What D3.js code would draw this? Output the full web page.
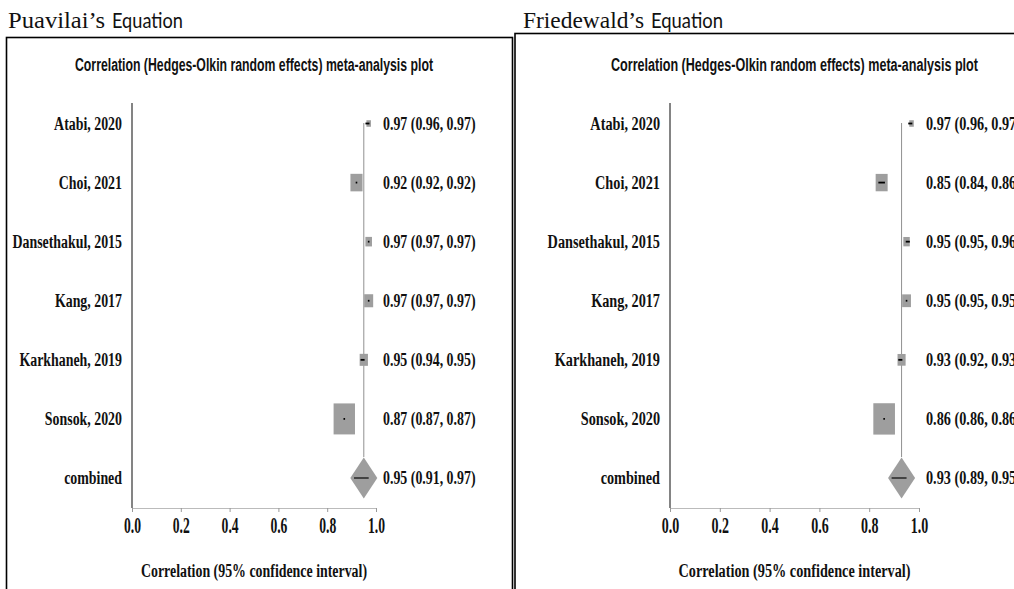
<!DOCTYPE html>
<html><head><meta charset="utf-8">
<script src="https://cdn.jsdelivr.net/npm/d3@7"></script>
<style>
html,body{margin:0;padding:0;background:#fff;overflow:hidden;}
svg{display:block;}
</style></head>
<body>
<svg id="chart" width="1014" height="589"></svg>
<script>
// ---------- DATA ----------
const studies = ["Atabi, 2020","Choi, 2021","Dansethakul, 2015","Kang, 2017","Karkhaneh, 2019","Sonsok, 2020"];
const combinedLabel = "combined";
const xTicks = [0.0,0.2,0.4,0.6,0.8,1.0];

const puaEst  = [0.97,0.92,0.97,0.97,0.95,0.87];
const puaLow  = [0.96,0.92,0.97,0.97,0.94,0.87];
const puaHigh = [0.97,0.92,0.97,0.97,0.95,0.87];
const puaWeight = [2.5,17.9,5.3,9.9,8.4,56.0];
const puaCombined = [0.95,0.91,0.97];

const friEst  = [0.97,0.85,0.95,0.95,0.93,0.86];
const friLow  = [0.96,0.84,0.95,0.95,0.92,0.86];
const friHigh = [0.97,0.86,0.96,0.95,0.93,0.86];
const friWeight = [2.5,17.6,5.1,9.5,8.0,57.3];
const friCombined = [0.93,0.89,0.95];

const panelTitles = [["Puavilai\u2019s","Equation"],["Friedewald\u2019s","Equation"]];
const plotTitle = "Correlation (Hedges-Olkin random effects) meta-analysis plot";
const xLabel = "Correlation (95% confidence interval)";

// ---------- LAYOUT ----------
const svg = d3.select("#chart");
const SERIF = "'Liberation Serif','Times New Roman',serif";
const SANS = "'Liberation Sans Narrow','Liberation Sans',Arial,sans-serif";

const panels = [
  {est:puaEst, low:puaLow, high:puaHigh, w:puaWeight, comb:puaCombined, title:panelTitles[0],
   box:{x:6.5,y:37.5,w:506,h:600}, titleX:8, titleW:[97,71],
   x0:132, x1:376, sx:0.77, plotTitleW:358},
  {est:friEst, low:friLow, high:friHigh, w:friWeight, comb:friCombined, title:panelTitles[1],
   box:{x:515,y:33.5,w:600,h:600}, titleX:523, titleW:[121,72],
   x0:670, x1:919, sx:0.79, plotTitleW:367}
];

const plotTop = 103, plotBottom = 508;
const rows = studies.concat([combinedLabel]);
const y = d3.scalePoint().domain(rows).range([123.5, 478]);
const sizeScale = d3.scaleSqrt().domain([0, 56]).range([0, 31]);
const boxAspect = 0.69;

function fmt(v){ return d3.format(".2f")(v); }

panels.forEach(p => {
  const g = svg.append("g");
  // panel frame
  g.append("rect").attr("x",p.box.x).attr("y",p.box.y).attr("width",p.box.w).attr("height",p.box.h)
    .attr("fill","none").attr("stroke","#000").attr("stroke-width",1.6);
  // panel title
  g.append("text").attr("x",p.titleX).attr("y",28).attr("font-family",SERIF)
    .attr("font-size",23).attr("textLength",p.titleW[0]).attr("lengthAdjust","spacingAndGlyphs")
    .attr("fill","#111").text(p.title[0]);
  g.append("text").attr("x",p.titleX+p.titleW[0]+7).attr("y",28).attr("font-family","Lato,'Open Sans',sans-serif")
    .attr("font-size",22).attr("textLength",p.titleW[1]).attr("lengthAdjust","spacingAndGlyphs")
    .attr("fill","#111").text(p.title[1]);

  const x = d3.scaleLinear().domain([0,1]).range([p.x0,p.x1]);
  const cx = (p.x0+p.x1)/2;

  // plot title
  g.append("text").attr("x",cx).attr("y",71).attr("text-anchor","middle")
    .attr("font-family",SANS).attr("font-weight","bold").attr("font-size",18)
    .attr("textLength",p.plotTitleW).attr("lengthAdjust","spacingAndGlyphs")
    .attr("fill","#111").text(plotTitle);

  // y axis line
  g.append("line").attr("x1",p.x0).attr("x2",p.x0).attr("y1",plotTop).attr("y2",plotBottom)
    .attr("stroke","#777").attr("stroke-width",1.8);

  // x axis
  const ax = g.append("g").attr("transform",`translate(0,${plotBottom})`)
    .call(d3.axisBottom(x).tickValues(xTicks).tickFormat(d3.format(".1f")).tickSize(4).tickSizeOuter(0));
  ax.select(".domain").attr("stroke","#bbb").attr("stroke-width",1.2);
  ax.selectAll(".tick line").attr("stroke","#999");
  ax.selectAll(".tick text").attr("y",0).attr("dy",0)
    .attr("transform",`translate(0,25) scale(${p.sx*0.77},1)`)
    .attr("font-family",SERIF).attr("font-weight","bold").attr("font-size",23).attr("fill","#111");

  // row labels
  g.selectAll("text.rowlab").data(rows).enter().append("text").attr("class","rowlab")
    .attr("transform",d=>`translate(${p.x0-10},${y(d)+6}) scale(${p.sx*0.95},1)`)
    .attr("text-anchor","end").attr("font-family",SERIF).attr("font-weight","bold").attr("font-size",19)
    .attr("fill","#111").text(d=>d);

  // values text
  const vals = p.est.map((e,i)=>`${fmt(e)} (${fmt(p.low[i])}, ${fmt(p.high[i])})`)
    .concat([`${fmt(p.comb[0])} (${fmt(p.comb[1])}, ${fmt(p.comb[2])})`]);
  g.selectAll("text.val").data(vals).enter().append("text").attr("class","val")
    .attr("transform",(d,i)=>`translate(${p.x1+7},${y(rows[i])+6}) scale(${p.sx*0.95},1)`)
    .attr("font-family",SERIF).attr("font-weight","bold").attr("font-size",19)
    .attr("fill","#111").text(d=>d);

  // reference dotted line at combined estimate
  const dH = 20.5, dW = 13.5;
  g.append("line").attr("x1",x(p.comb[0])).attr("x2",x(p.comb[0]))
    .attr("y1",y(rows[0])).attr("y2",y(combinedLabel)-dH)
    .attr("stroke","#222").attr("stroke-width",1).attr("stroke-dasharray","1,1");

  // study boxes
  studies.forEach((s,i)=>{
    const h = sizeScale(p.w[i]), w = h*boxAspect;
    g.append("rect").attr("x",x(p.est[i])-w/2).attr("y",y(s)-h/2).attr("width",w).attr("height",h)
      .attr("fill","#9e9e9e");
    g.append("line").attr("x1",x(p.low[i])-0.8).attr("x2",x(p.high[i])+0.8)
      .attr("y1",y(s)).attr("y2",y(s)).attr("stroke","#000").attr("stroke-width",1.8);
  });

  // combined diamond
  const cxv = x(p.comb[0]), cy = y(combinedLabel);
  g.append("path").attr("d",`M${cxv-dW},${cy}L${cxv},${cy-dH}L${cxv+dW},${cy}L${cxv},${cy+dH}Z`)
    .attr("fill","#9e9e9e");
  g.append("line").attr("x1",x(p.comb[1])).attr("x2",x(p.comb[2])).attr("y1",cy).attr("y2",cy)
    .attr("stroke","#111").attr("stroke-width",1.3);

  // axis label
  g.append("text").attr("transform",`translate(${cx},${577}) scale(${p.sx*0.95},1)`)
    .attr("text-anchor","middle").attr("font-family",SERIF).attr("font-weight","bold").attr("font-size",19)
    .attr("fill","#111").text(xLabel);
});
</script>
</body></html>
